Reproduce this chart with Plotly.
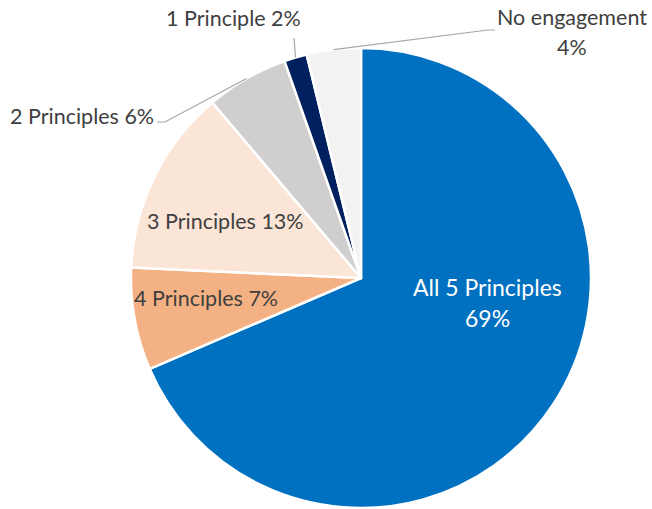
import math
import plotly.graph_objects as go

labels = ["All 5 Principles", "4 Principles", "3 Principles", "2 Principles", "1 Principle", "No engagement"]
values = [68.6, 7.2, 13.1, 5.8, 1.6, 3.8]
pct_text = ["69%", "7%", "13%", "6%", "2%", "4%"]
colors = ["#0070C0", "#F4B183", "#FBE5D6", "#D0CECE", "#002060", "#F2F2F2"]

W, H = 652, 509
CX, CY, R = 361, 278, 230
FONT = "Lato, 'Open Sans', sans-serif"
TXT = "#404040"

fig = go.Figure(go.Pie(
    labels=labels, values=values, sort=False, direction="clockwise", rotation=0,
    marker=dict(colors=colors, line=dict(color="white", width=2.5)),
    textinfo="none", hoverinfo="label+percent", showlegend=False,
    domain=dict(x=[(CX - R) / W, (CX + R) / W], y=[1 - (CY + R) / H, 1 - (CY - R) / H]),
))

def px(x, y):
    return x / W, 1 - y / H

total = sum(values)
mids = []
cum = 0
for v in values:
    mids.append((cum + v / 2) / total * 360)
    cum += v

def tip(i):
    a = math.radians(mids[i])
    return CX + R * math.sin(a), CY - R * math.cos(a)

ann = []
def add(text, x, y, color=TXT, size=21.5):
    xp, yp = px(x, y)
    ann.append(dict(text=text, x=xp, y=yp, xref="paper", yref="paper", showarrow=False,
                    font=dict(family=FONT, size=size, color=color), xanchor="center", yanchor="middle"))

add(f"{labels[0]}", 487, 287, "white", 23)
add(pct_text[0], 487, 318, "white", 23)
add(f"{labels[1]} {pct_text[1]}", 206, 298)
add(f"{labels[2]} {pct_text[2]}", 225, 221)
add(f"{labels[3]} {pct_text[3]}", 82, 116)
add(f"{labels[4]} {pct_text[4]}", 233, 18)
add(labels[5], 572, 17)
add(pct_text[5], 572, 47)

shapes = []
def leader(points):
    d = ""
    for k, (x, y) in enumerate(points):
        xp, yp = px(x, y)
        d += ("M" if k == 0 else "L") + f"{xp},{yp} "
    shapes.append(dict(type="path", path=d, xref="paper", yref="paper",
                       line=dict(color="#A6A6A6", width=1.2)))

t3 = tip(3); t4 = tip(4); t5 = tip(5)
leader([t3, (165, 122), (157, 122)])
leader([t4, (294, 38)])
leader([t5, (488, 30), (495, 30)])

fig.update_layout(width=W, height=H, margin=dict(l=0, r=0, t=0, b=0),
                  paper_bgcolor="white", plot_bgcolor="white",
                  annotations=ann, shapes=shapes)
fig.write_html("out.html", config={"displayModeBar": False},
               post_script="document.body.style.margin='0';document.body.style.overflow='hidden';")
